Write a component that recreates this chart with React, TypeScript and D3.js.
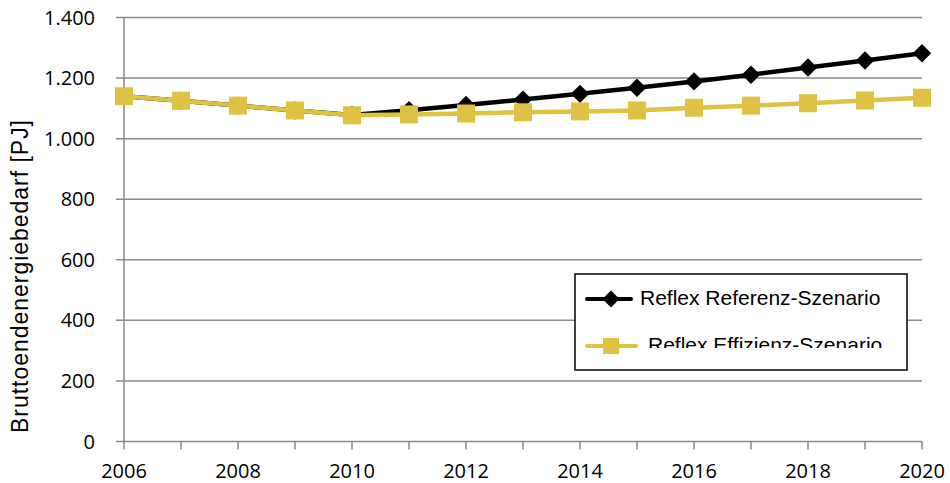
import React from "react";
import * as d3 from "d3";

const years = [2006, 2007, 2008, 2009, 2010, 2011, 2012, 2013, 2014, 2015, 2016, 2017, 2018, 2019, 2020];
const referenz = [1140, 1125, 1109, 1093, 1078, 1094, 1111, 1129, 1148, 1168, 1189, 1211, 1235, 1258, 1282];
const effizienz = [1140, 1125, 1109, 1093, 1077, 1080, 1083, 1087, 1090, 1093, 1102, 1109, 1117, 1126, 1135];
const yTicks = [0, 200, 400, 600, 800, 1000, 1200, 1400];
const xTickLabels = [2006, 2008, 2010, 2012, 2014, 2016, 2018, 2020];
const seriesNames = ["Reflex Referenz-Szenario", "Reflex Effizienz-Szenario"];
const yTitle = "Bruttoendenergiebedarf [PJ]";

const W = 950, H = 483;
const BLACK = "#000000";
const YELLOW = "#DFC143";
const GRID = "#8a8a8a";

export default function App() {
  const x = d3.scaleLinear().domain([2006, 2020]).range([124, 922]);
  const y = d3.scaleLinear().domain([0, 1400]).range([441.5, 17.5]);
  const line = d3.line<number>().x((_, i) => x(years[i])).y((d) => y(d));
  const fmt = (v: number) => d3.format(",")(v).replace(/,/g, ".");
  const tickFont = "'Open Sans', 'Liberation Sans', sans-serif";
  const arial = "'Liberation Sans', Arial, sans-serif";

  return (
    <svg width={W} height={H} style={{ position: "absolute", left: 0, top: 0, background: "#fff" }}>
      <defs>
        <clipPath id="legclip">
          <rect x={575} y={274} width={332} height={74} />
        </clipPath>
      </defs>
      {yTicks.map((t) => (
        <line key={t} x1={116} x2={922} y1={y(t)} y2={y(t)} stroke={GRID} strokeWidth={1.5} />
      ))}
      <line x1={124} x2={124} y1={y(1400)} y2={y(0)} stroke={GRID} strokeWidth={1.5} />
      {years.map((yr) => (
        <line key={yr} x1={x(yr)} x2={x(yr)} y1={y(0)} y2={y(0) + 8} stroke={GRID} strokeWidth={1.5} />
      ))}
      {yTicks.map((t) => (
        <text key={t} x={95} y={y(t) + 7} textAnchor="end" fontFamily={tickFont} fontSize={20} fill="#000">
          {fmt(t)}
        </text>
      ))}
      {xTickLabels.map((t) => (
        <text key={t} x={x(t)} y={477.5} textAnchor="middle" fontFamily={tickFont} fontSize={20} fill="#000">
          {t}
        </text>
      ))}
      <text
        transform={`translate(28, ${(120 + 433) / 2}) rotate(-90)`}
        textAnchor="middle"
        fontFamily={arial}
        fontSize={23}
        textLength={313}
        fill="#000"
      >
        {yTitle}
      </text>
      <path d={line(referenz) || ""} fill="none" stroke={BLACK} strokeWidth={4.5} />
      {referenz.map((v, i) => (
        <rect
          key={i}
          x={-6.5}
          y={-6.5}
          width={13}
          height={13}
          fill={BLACK}
          transform={`translate(${x(years[i])}, ${y(v)}) rotate(45)`}
        />
      ))}
      <path d={line(effizienz) || ""} fill="none" stroke={YELLOW} strokeWidth={4.5} />
      {effizienz.map((v, i) => (
        <rect key={i} x={x(years[i]) - 9} y={y(v) - 9} width={18} height={18} fill={YELLOW} />
      ))}
      <rect x={575} y={274} width={332} height={96} fill="#fff" stroke="#000" strokeWidth={1.5} />
      <g clipPath="url(#legclip)">
        <line x1={587} x2={631} y1={299} y2={299} stroke={BLACK} strokeWidth={4} strokeLinecap="round" />
        <rect x={-6} y={-6} width={12} height={12} fill={BLACK} transform="translate(611, 299) rotate(45)" />
        <text x={640} y={304.5} fontFamily={arial} fontSize={21} fill="#000">
          {seriesNames[0]}
        </text>
        <text x={648} y={351.5} fontFamily={arial} fontSize={21} fill="#000">
          {seriesNames[1]}
        </text>
      </g>
      <line x1={587} x2={636} y1={346} y2={346} stroke={YELLOW} strokeWidth={4} strokeLinecap="round" />
      <rect x={603} y={338} width={16} height={16} fill={YELLOW} />
    </svg>
  );
}
